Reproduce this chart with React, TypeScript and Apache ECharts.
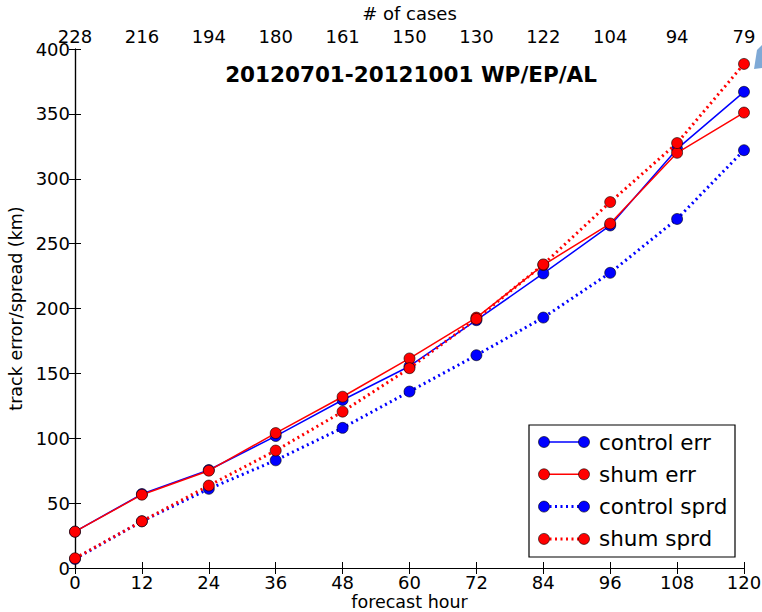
import React, { useEffect, useRef } from "react";
import * as echarts from "echarts";

const hours = [0, 12, 24, 36, 48, 60, 72, 84, 96, 108, 120];
const cases = ["228", "216", "194", "180", "161", "150", "130", "122", "104", "94", "79"];
const yTicks = [0, 50, 100, 150, 200, 250, 300, 350, 400];

const controlErr = [28, 57, 75.5, 101.7, 129.5, 155.5, 191, 227, 264, 323, 367];
const shumErr = [28, 56.5, 75, 104, 132, 161.5, 193, 233.5, 265.5, 320, 351];
const controlSprd = [7, 36, 61, 83, 108, 136, 164, 193, 227.5, 269, 322];
const shumSprd = [7.5, 36, 63.5, 90.5, 120.5, 154, 192, 234, 282, 327.5, 388.5];

const seriesNames = ["control err", "shum err", "control sprd", "shum sprd"];
const seriesColors = ["#0000ff", "#ff0000", "#0000ff", "#ff0000"];
const seriesDotted = [false, false, true, true];
const seriesValues = [controlErr, shumErr, controlSprd, shumSprd];

const FONT = "DejaVu Sans";

export default function App() {
  const ref = useRef<HTMLDivElement>(null);
  useEffect(() => {
    document.body.style.margin = "0";
    if (!ref.current) return;
    const chart = echarts.init(ref.current, undefined, { renderer: "svg" });

    const axisLine = { show: true, lineStyle: { color: "#000", width: 1.2 } };
    const axisTick = { show: true, inside: true, length: 6, lineStyle: { color: "#000", width: 1 } };

    const series: any[] = seriesValues.map((vals, i) => ({
      name: seriesNames[i],
      type: "line",
      xAxisIndex: 0,
      yAxisIndex: 0,
      data: hours.map((h, j) => [h, vals[j]]),
      symbol: "circle",
      symbolSize: 11,
      showSymbol: true,
      itemStyle: { color: seriesColors[i], borderColor: "#000", borderWidth: 0.6 },
      lineStyle: seriesDotted[i]
        ? { color: seriesColors[i], width: 3, type: [2, 3.5] }
        : { color: seriesColors[i], width: 1.5, type: "solid" },
      z: 2 + i,
      silent: true,
    }));

    const legendX = 529;
    const legendY = 425;
    const legendW = 206;
    const legendH = 132;
    const legendChildren: any[] = [
      {
        type: "rect",
        shape: { x: legendX, y: legendY, width: legendW, height: legendH },
        style: { fill: "#fff", stroke: "#000", lineWidth: 1.2 },
      },
    ];
    seriesNames.forEach((name, i) => {
      const cy = legendY + 17 + i * 32.3;
      const x1 = legendX + 15;
      const x2 = legendX + 55;
      legendChildren.push({
        type: "line",
        shape: { x1, y1: cy, x2, y2: cy },
        style: seriesDotted[i]
          ? { stroke: seriesColors[i], lineWidth: 3, lineDash: [2, 3.5] }
          : { stroke: seriesColors[i], lineWidth: 1.5 },
      });
      [x1, x2].forEach((cx) =>
        legendChildren.push({
          type: "circle",
          shape: { cx, cy, r: 5.5 },
          style: { fill: seriesColors[i], stroke: "#000", lineWidth: 0.6 },
        })
      );
      legendChildren.push({
        type: "text",
        x: legendX + 70,
        y: cy,
        style: {
          text: name,
          font: `21.5px "${FONT}"`,
          fill: "#000",
          verticalAlign: "middle",
        },
      });
    });

    chart.setOption({
      animation: false,
      backgroundColor: "#fff",
      textStyle: { fontFamily: FONT },
      grid: {
        left: 75,
        right: 18,
        top: 49,
        bottom: 44,
        containLabel: false,
        outerBoundsMode: "none",
      },
      xAxis: [
        {
          type: "value",
          position: "bottom",
          min: 0,
          max: 120,
          interval: 12,
          axisLine,
          axisTick,
          splitLine: { show: false },
          axisLabel: { color: "#000", fontSize: 18, fontFamily: FONT, margin: 5 },
          name: "forecast hour",
          nameLocation: "middle",
          nameGap: 25,
          nameMoveOverlap: false,
          nameTextStyle: { color: "#000", fontSize: 17.5, fontFamily: FONT, lineHeight: 18 },
        },
        {
          type: "value",
          position: "top",
          min: 0,
          max: 120,
          interval: 12,
          axisLine,
          axisTick,
          splitLine: { show: false },
          axisLabel: {
            color: "#000",
            fontSize: 18,
            fontFamily: FONT,
            margin: 4,
            formatter: (v: number) => {
              const idx = hours.indexOf(v);
              return idx >= 0 ? cases[idx] : "";
            },
          },
          name: "# of cases",
          nameLocation: "middle",
          nameGap: 24,
          nameTextStyle: { color: "#000", fontSize: 18, fontFamily: FONT },
        },
      ],
      yAxis: [
        {
          type: "value",
          position: "left",
          min: yTicks[0],
          max: yTicks[yTicks.length - 1],
          interval: 50,
          axisLine,
          axisTick,
          splitLine: { show: false },
          axisLabel: { color: "#000", fontSize: 18, fontFamily: FONT, margin: 5 },
          name: "track error/spread (km)",
          nameLocation: "middle",
          nameGap: 45,
          nameRotate: 90,
          nameTextStyle: { color: "#000", fontSize: 17.5, fontFamily: FONT },
        },
        {
          type: "value",
          position: "right",
          min: yTicks[0],
          max: yTicks[yTicks.length - 1],
          interval: 50,
          axisLine,
          axisTick,
          splitLine: { show: false },
          axisLabel: { show: false },
        },
      ],
      series,
      graphic: [
        {
          type: "text",
          x: 411,
          y: 74,
          style: {
            text: "20120701-20121001 WP/EP/AL",
            font: `bold 21.5px "${FONT}"`,
            fill: "#000",
            align: "center",
            verticalAlign: "middle",
          },
        },
        {
          type: "polygon",
          shape: { points: [[757, 50], [762, 45], [762, 68], [754, 69]] },
          style: { fill: "#7fa9d6" },
        },
        { type: "group", children: legendChildren, z: 100 },
      ],
    });
    return () => chart.dispose();
  }, []);
  return <div ref={ref} style={{ width: 762, height: 612 }} />;
}
